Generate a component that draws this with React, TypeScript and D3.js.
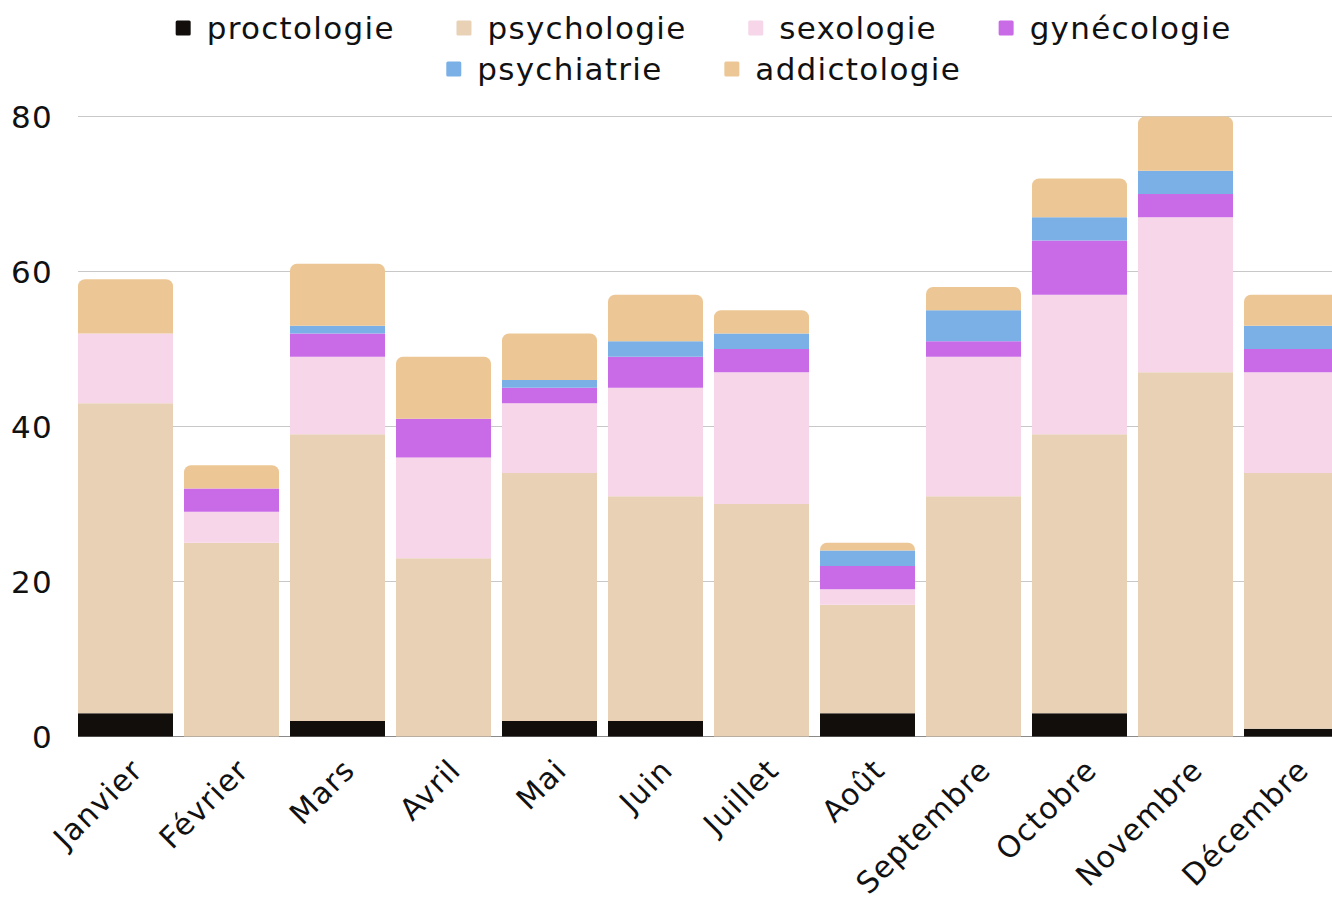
import React, { useMemo } from "react";
import * as d3 from "d3";

const months = ["Janvier", "Février", "Mars", "Avril", "Mai", "Juin", "Juillet", "Août", "Septembre", "Octobre", "Novembre", "Décembre"];
const seriesNames = ["proctologie", "psychologie", "sexologie", "gynécologie", "psychiatrie", "addictologie"];
const seriesColors = ["#110e0c", "#e8d1b5", "#f7d6ea", "#c96ae6", "#7ab0e6", "#ecc795"];

const proctologie = [3, 0, 2, 0, 2, 2, 0, 3, 0, 3, 0, 1];
const psychologie = [40, 25, 37, 23, 32, 29, 30, 14, 31, 36, 47, 33];
const sexologie = [9, 4, 10, 13, 9, 14, 17, 2, 18, 18, 20, 13];
const gynecologie = [0, 3, 3, 5, 2, 4, 3, 3, 2, 7, 3, 3];
const psychiatrie = [0, 0, 1, 0, 1, 2, 2, 2, 4, 3, 3, 3];
const addictologie = [7, 3, 8, 8, 6, 6, 3, 1, 3, 5, 7, 4];

const yTicks = [0, 20, 40, 60, 80];
const legendRows = [[0, 1, 2, 3], [4, 5]];

const W = 1332;
const H = 901;
const FONT = "DejaVu Sans";
const FS = 31;
const LS = 1.3;

function measure(text: string): number {
  const c = document.createElement("canvas").getContext("2d");
  if (!c) return text.length * FS * 0.6;
  c.font = `${FS}px "${FONT}"`;
  return c.measureText(text).width + LS * (text.length - 1);
}

function topRoundedRect(x: number, y: number, w: number, h: number, r: number) {
  const rr = Math.min(r, h, w / 2);
  const p = d3.path();
  p.moveTo(x, y + h);
  p.lineTo(x, y + rr);
  p.arcTo(x, y, x + rr, y, rr);
  p.lineTo(x + w - rr, y);
  p.arcTo(x + w, y, x + w, y + rr, rr);
  p.lineTo(x + w, y + h);
  p.closePath();
  return p.toString();
}

export default function App() {
  const data = useMemo(() => {
    const cols = [proctologie, psychologie, sexologie, gynecologie, psychiatrie, addictologie];
    return months.map((m, i) => {
      const row: Record<string, any> = { month: m };
      seriesNames.forEach((s, k) => (row[s] = cols[k][i]));
      return row;
    });
  }, []);

  const stacked = useMemo(() => d3.stack<any>().keys(seriesNames)(data), [data]);

  const left = 78;
  const step = 106;
  const gapPx = 11;
  const x = d3
    .scaleBand<string>()
    .domain(months)
    .range([left, left + step * months.length - gapPx])
    .paddingInner(gapPx / step)
    .paddingOuter(0);
  const y = d3.scaleLinear().domain([0, 80]).range([736.5, 116.5]);

  const topIndex = months.map((_, i) => {
    let t = -1;
    stacked.forEach((s, k) => {
      if (s[i][1] - s[i][0] > 0) t = k;
    });
    return t;
  });

  const legend = useMemo(() => {
    const items: { k: number; x: number; y: number }[] = [];
    const sq = 15, gap = 16, spacing = 63, cx = 703;
    legendRows.forEach((row, ri) => {
      const widths = row.map((k) => sq + gap + measure(seriesNames[k]));
      const total = widths.reduce((a, b) => a + b, 0) + spacing * (row.length - 1);
      let cur = cx - total / 2;
      row.forEach((k, j) => {
        items.push({ k, x: cur, y: 28 + ri * 41 });
        cur += widths[j] + spacing;
      });
    });
    return items;
  }, []);

  return (
    <svg width={W} height={H} style={{ position: "absolute", left: 0, top: 0, background: "#fff" }} fontFamily={FONT} letterSpacing={LS}>
      {yTicks.map((t) => (
        <g key={t}>
          <line x1={left} x2={W} y1={y(t)} y2={y(t)} stroke={t === 0 ? "#8a8a8a" : "#c8c8c8"} strokeWidth={1.2} />
          <text x={53} y={y(t)} dy="0.36em" textAnchor="end" fontSize={FS} fill="#111">{t}</text>
        </g>
      ))}
      {stacked.map((s, k) => (
        <g key={seriesNames[k]} fill={seriesColors[k]}>
          {s.map((d, i) => {
            const h = y(d[0]) - y(d[1]);
            if (h <= 0) return null;
            const bx = x(months[i]) as number;
            const bw = x.bandwidth();
            if (topIndex[i] === k) {
              return <path key={i} d={topRoundedRect(bx, y(d[1]), bw, h, 7)} />;
            }
            return <rect key={i} x={bx} y={y(d[1])} width={bw} height={h} />;
          })}
        </g>
      ))}
      {months.map((m) => {
        const cx = (x(m) as number) + x.bandwidth() / 2;
        return (
          <text key={m} transform={`translate(${cx + 19},${772}) rotate(-45)`} textAnchor="end" fontSize={30} letterSpacing={1.1} fill="#111">{m}</text>
        );
      })}
      {legend.map(({ k, x: lx, y: ly }) => (
        <g key={k}>
          <rect x={lx} y={ly - 7.5} width={15} height={15} rx={1.5} fill={seriesColors[k]} />
          <text x={lx + 31} y={ly} dy="0.36em" fontSize={FS} fill="#111">{seriesNames[k]}</text>
        </g>
      ))}
    </svg>
  );
}
